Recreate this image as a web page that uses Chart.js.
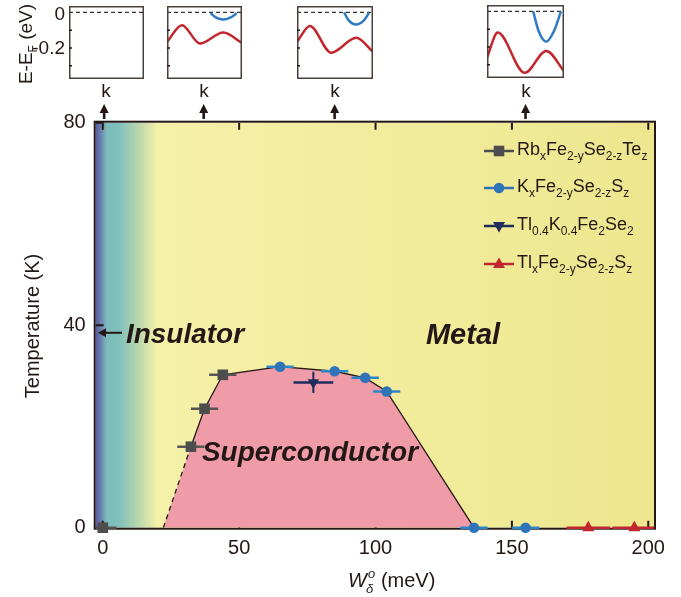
<!DOCTYPE html>
<html>
<head>
<meta charset="utf-8">
<script src="https://cdn.jsdelivr.net/npm/chart.js@4.4.1/dist/chart.umd.min.js"></script>
<style>
  body { margin: 0; background: #fff; width: 681px; height: 597px; overflow: hidden; position: relative;
         font-family: "Liberation Sans", Arial, sans-serif; color: #231815; }
  canvas { position: absolute; }
  .lab { position: absolute; font-size: 19px; line-height: 1; white-space: nowrap; }
  .lab sub { font-size: 12px; vertical-align: -5px; line-height: 0; }
</style>
</head>
<body>
<canvas id="main" width="681" height="597" style="left:0;top:0"></canvas>
<canvas id="b1" width="75" height="73" style="left:69px;top:6px"></canvas>
<canvas id="b2" width="75" height="73" style="left:167px;top:6px"></canvas>
<canvas id="b3" width="76" height="73" style="left:297px;top:6px"></canvas>
<canvas id="b4" width="77" height="73" style="left:487px;top:5px"></canvas>

<div class="lab" style="right:616px;top:4px">0</div>
<div class="lab" style="right:616px;top:38px">-0.2</div>
<div class="lab" style="left:25px;top:44px;transform:translate(-50%,-50%) rotate(-90deg)">E-E<sub>F</sub> (eV)</div>
<div class="lab" style="left:106px;top:81px;transform:translateX(-50%)">k</div>
<div class="lab" style="left:204px;top:81px;transform:translateX(-50%)">k</div>
<div class="lab" style="left:335px;top:81px;transform:translateX(-50%)">k</div>
<div class="lab" style="left:526px;top:81px;transform:translateX(-50%)">k</div>

<script>
// ---- main phase diagram data (W in meV, Tc in K) ----
const xTicks = [0, 50, 100, 150, 200];
const yTicks = [0, 40, 80];

const rbW = [0, 32.3, 37.3, 44];          // RbxFe2-ySe2-zTez
const rbTc = [0, 16, 23.5, 30.2];
const rbErr = [5, 5, 5, 5];

const kW = [65, 85, 96.2, 104.1, 136.1, 155];   // KxFe2-ySe2-zSz
const kTc = [31.8, 30.9, 29.6, 26.9, 0, 0];
const kErr = [5, 5, 5, 5, 5, 5];

const tlkW = [77.2];                       // Tl0.4K0.4Fe2Se2
const tlkTc = [28.7];
const tlkErr = [7.3];
const tlkTcErr = [2.1];

const tlW = [178, 194.9];                  // TlxFe2-ySe2-zSz
const tlTc = [0, 0];
const tlErr = [8, 8];

// superconducting dome boundary
const domeW = [22.2, 32.3, 37.3, 44, 65, 85, 96.2, 104.1, 136.1];
const domeTc = [0, 16, 23.5, 30.2, 31.8, 30.9, 29.6, 26.9, 0];

// W values where the band insets are taken
const kArrows = [0.5, 37, 85, 155];

// ---- band insets (k normalised 0..1, E in eV) ----
const red2K = [0, 0.2, 0.44, 0.75, 1];
const red2E = [-0.166, -0.072, -0.175, -0.113, -0.172];
const blue2K = [0.58, 0.65, 0.75, 0.85, 0.93];
const blue2E = [-0.004, -0.028, -0.04, -0.028, -0.004];

const red3K = [0, 0.17, 0.45, 0.78, 1];
const red3E = [-0.166, -0.076, -0.226, -0.143, -0.222];
const blue3K = [0.62, 0.68, 0.78, 0.88, 0.95];
const blue3E = [0, -0.045, -0.068, -0.045, 0];

const red4K = [0, 0.14, 0.49, 0.77, 1];
const red4E = [-0.26, -0.119, -0.345, -0.222, -0.335];
const blue4K = [0.6, 0.67, 0.77, 0.87, 0.96];
const blue4E = [0, -0.11, -0.17, -0.11, 0];

const legendNames = [
  'Rb_{x}Fe_{2-y}Se_{2-z}Te_{z}',
  'K_{x}Fe_{2-y}Se_{2-z}S_{z}',
  'Tl_{0.4}K_{0.4}Fe_{2}Se_{2}',
  'Tl_{x}Fe_{2-y}Se_{2-z}S_{z}'
];

const ink = '#231815';
const font = '"Liberation Sans", Arial, sans-serif';
const toXY = (xs, ys) => xs.map((v, i) => ({ x: v, y: ys[i] }));

// background: insulator -> metal colour wash
const bgStops = [-2.6, -1.2, 1.5, 6, 13, 20, 80, 202.1];
const bgColors = ['#56599c', '#6676ad', '#7cbcbb', '#80c0bb', '#b9d6ad', '#f5f1a8', '#f3eda0', '#eee68e'];

const backdrop = {
  id: 'backdrop',
  beforeDatasetsDraw(chart) {
    const { ctx, chartArea: a, scales: { x, y } } = chart;
    const g = ctx.createLinearGradient(a.left, 0, a.right, 0);
    bgStops.forEach((v, i) => {
      const t = (x.getPixelForValue(v) - a.left) / (a.right - a.left);
      g.addColorStop(Math.min(1, Math.max(0, t)), bgColors[i]);
    });
    ctx.save();
    ctx.fillStyle = g;
    ctx.fillRect(a.left, a.top, a.right - a.left, a.bottom - a.top);
    // frame, drawn just outside the area
    ctx.strokeStyle = ink;
    ctx.lineWidth = 2;
    ctx.strokeRect(a.left - 1, a.top - 1, a.right - a.left + 2, a.bottom - a.top + 2);
    // inward ticks
    ctx.lineWidth = 2;
    ctx.beginPath();
    xTicks.forEach(v => {
      const px = x.getPixelForValue(v);
      ctx.moveTo(px, a.bottom); ctx.lineTo(px, a.bottom - 7);
      ctx.moveTo(px, a.top); ctx.lineTo(px, a.top + 7);
    });
    yTicks.forEach(v => {
      const py = y.getPixelForValue(v);
      ctx.moveTo(a.left, py); ctx.lineTo(a.left + 8, py);
    });
    ctx.stroke();
    ctx.restore();
  }
};

const errorBars = {
  id: 'errorBars',
  afterDatasetDraw(chart, args) {
    if (args.index !== 4) return;   // right after the dome outline
    const { ctx, chartArea: a, scales: { x, y } } = chart;
    ctx.save();
    ctx.beginPath();
    ctx.rect(a.left, a.top - 20, a.right - a.left, a.bottom - a.top + 40);
    ctx.clip();
    const hbar = (ws, ts, errs, color) => {
      ctx.strokeStyle = color;
      ctx.lineWidth = 2.5;
      ws.forEach((w, i) => {
        const py = y.getPixelForValue(ts[i]);
        ctx.beginPath();
        ctx.moveTo(x.getPixelForValue(w - errs[i]), py);
        ctx.lineTo(x.getPixelForValue(w + errs[i]), py);
        ctx.stroke();
      });
    };
    hbar(rbW, rbTc, rbErr, '#555555');
    hbar(kW, kTc, kErr, '#2b86c9');
    hbar(tlW, tlTc, tlErr, '#c3272d');
    hbar(tlkW, tlkTc, tlkErr, '#1f2d5c');
    ctx.strokeStyle = '#1f2d5c';
    ctx.lineWidth = 2;
    tlkW.forEach((w, i) => {
      const px = x.getPixelForValue(w);
      ctx.beginPath();
      ctx.moveTo(px, y.getPixelForValue(tlkTc[i] - tlkTcErr[i]));
      ctx.lineTo(px, y.getPixelForValue(tlkTc[i] + tlkTcErr[i]));
      ctx.stroke();
    });
    ctx.restore();
  }
};

function drawMarker(ctx, kind, cx, cy, color) {
  ctx.fillStyle = color;
  ctx.beginPath();
  if (kind === 'rect') {
    ctx.rect(cx - 5.3, cy - 5.3, 10.6, 10.6);
  } else if (kind === 'circle') {
    ctx.arc(cx, cy, 5.3, 0, Math.PI * 2);
  } else if (kind === 'up') {
    ctx.moveTo(cx, cy - 6.5); ctx.lineTo(cx + 6, cy + 4); ctx.lineTo(cx - 6, cy + 4);
  } else {
    ctx.moveTo(cx, cy + 6.5); ctx.lineTo(cx + 6, cy - 4); ctx.lineTo(cx - 6, cy - 4);
  }
  ctx.closePath();
  ctx.fill();
}

function drawFormula(ctx, text, x0, base) {
  const parts = text.split(/(_\{[^}]*\})/).filter(s => s.length);
  let cx = x0;
  parts.forEach(p => {
    if (p.startsWith('_{')) {
      const s = p.slice(2, -1);
      ctx.font = `12px ${font}`;
      ctx.fillText(s, cx, base + 5);
      cx += ctx.measureText(s).width;
    } else {
      ctx.font = `18px ${font}`;
      ctx.fillText(p, cx, base);
      cx += ctx.measureText(p).width;
    }
  });
}

const annotations = {
  id: 'annotations',
  afterDatasetsDraw(chart) {
    const { ctx, scales: { x, y } } = chart;
    ctx.save();
    ctx.fillStyle = ink;
    ctx.textAlign = 'center';
    ctx.textBaseline = 'alphabetic';
    ctx.font = `italic bold 28px ${font}`;
    ctx.fillText('Insulator', 185, 343);
    ctx.fillText('Superconductor', 310, 461);
    ctx.font = `italic bold 29px ${font}`;
    ctx.fillText('Metal', 463, 344);
    // arrow to the insulating edge
    const ay = y.getPixelForValue(38.5);
    ctx.strokeStyle = ink;
    ctx.lineWidth = 2;
    ctx.beginPath();
    ctx.moveTo(122, ay); ctx.lineTo(104, ay);
    ctx.stroke();
    ctx.beginPath();
    ctx.moveTo(98, ay); ctx.lineTo(106, ay - 4.5); ctx.lineTo(106, ay + 4.5);
    ctx.closePath(); ctx.fill();
    ctx.restore();
  },
  afterDraw(chart) {
    const { ctx, chartArea: a, scales: { x } } = chart;
    ctx.save();
    ctx.fillStyle = ink;
    // arrows from the insets down to the W axis
    kArrows.forEach(k => {
      const px = x.getPixelForValue(k);
      ctx.fillRect(px - 1.3, 111, 2.6, 8);
      ctx.beginPath();
      ctx.moveTo(px, 104); ctx.lineTo(px + 4.5, 113); ctx.lineTo(px - 4.5, 113);
      ctx.closePath(); ctx.fill();
    });
    // axis titles
    ctx.textBaseline = 'alphabetic';
    ctx.save();
    ctx.translate(39, 326);
    ctx.rotate(-Math.PI / 2);
    ctx.textAlign = 'center';
    ctx.font = `20px ${font}`;
    ctx.fillText('Temperature (K)', 0, 0);
    ctx.restore();
    ctx.textAlign = 'left';
    let tx = 348;
    const tb = 587;
    ctx.font = `italic 20px ${font}`;
    ctx.fillText('W', tx, tb);
    tx += ctx.measureText('W').width;
    ctx.font = `italic 13px ${font}`;
    ctx.fillText('\u03B4', tx - 1, tb + 6);
    ctx.fillText('o', tx + 1, tb - 9);
    ctx.font = `20px ${font}`;
    ctx.fillText('(meV)', tx + 14, tb);
    // legend
    const colors = ['#4d4d4d', '#2f74b8', '#1f2d5c', '#c1272d'];
    const kinds = ['rect', 'circle', 'down', 'up'];
    const bases = [155, 192, 230, 268];
    legendNames.forEach((name, i) => {
      const ly = bases[i] - 4;
      ctx.strokeStyle = colors[i];
      ctx.lineWidth = 2.5;
      ctx.beginPath();
      ctx.moveTo(484, ly); ctx.lineTo(514, ly);
      ctx.stroke();
      drawMarker(ctx, kinds[i], 499, ly, colors[i]);
      ctx.fillStyle = ink;
      drawFormula(ctx, name, 517, bases[i]);
    });
    ctx.restore();
  }
};

new Chart(document.getElementById('main'), {
  type: 'line',
  data: {
    datasets: [
      { data: toXY(rbW, rbTc), showLine: false, pointStyle: 'rect', pointRadius: 7.5,
        backgroundColor: '#4d4d4d', borderWidth: 0, clip: false },
      { data: toXY(kW, kTc), showLine: false, pointStyle: 'circle', pointRadius: 5.3,
        backgroundColor: '#2f74b8', borderWidth: 0, clip: false },
      { data: toXY(tlkW, tlkTc), showLine: false, pointStyle: 'triangle', rotation: 180, pointRadius: 6.5,
        backgroundColor: '#1f2d5c', borderWidth: 0, clip: false },
      { data: toXY(tlW, tlTc), showLine: false, pointStyle: 'triangle', pointRadius: 7,
        backgroundColor: '#c1272d', borderWidth: 0, clip: false },
      // dome outline (dashed where extrapolated)
      { data: toXY(domeW, domeTc), pointRadius: 0, borderColor: ink, borderWidth: 1.3,
        fill: false, tension: 0,
        segment: { borderDash: c => c.p0DataIndex === 0 ? [5, 4] : undefined } },
      // dome fill
      { data: toXY(domeW, domeTc), pointRadius: 0, borderWidth: 0, borderColor: 'rgba(0,0,0,0)',
        fill: 'origin', backgroundColor: '#f09ba8', tension: 0 }
    ]
  },
  options: {
    responsive: false,
    animation: false,
    devicePixelRatio: 1,
    layout: { padding: { top: 122.7, right: 27, left: 0, bottom: 0 } },
    scales: {
      x: {
        type: 'linear', min: -2.6, max: 202.1,
        afterFit: s => { s.height = 69.3; },
        afterBuildTicks: s => { s.ticks = xTicks.map(v => ({ value: v })); },
        grid: { display: false, drawTicks: false },
        border: { display: false },
        ticks: { color: ink, font: { size: 20, family: font }, padding: 9, maxRotation: 0, autoSkip: false }
      },
      y: {
        min: 0, max: 80,
        afterFit: s => { s.width = 95.7; },
        afterBuildTicks: s => { s.ticks = yTicks.map(v => ({ value: v })); },
        grid: { display: false, drawTicks: false },
        border: { display: false },
        ticks: { color: ink, font: { size: 20, family: font }, padding: 10 }
      }
    },
    plugins: { legend: { display: false }, tooltip: { enabled: false } }
  },
  plugins: [backdrop, errorBars, annotations]
});

// ---- insets ----
const insetFrame = {
  id: 'insetFrame',
  beforeDatasetsDraw(chart) {
    const { ctx, chartArea: a, scales: { y } } = chart;
    ctx.save();
    ctx.strokeStyle = '#333';
    ctx.lineWidth = 1.2;
    ctx.setLineDash([4, 3]);
    const p0 = y.getPixelForValue(0);
    ctx.beginPath(); ctx.moveTo(a.left, p0); ctx.lineTo(a.right, p0); ctx.stroke();
    ctx.restore();
  },
  afterDraw(chart) {
    const { ctx, chartArea: a, scales: { y } } = chart;
    ctx.save();
    ctx.strokeStyle = '#4a403a';
    ctx.lineWidth = 1.5;
    ctx.strokeRect(a.left + 0.75, a.top + 0.75, a.right - a.left - 1.5, a.bottom - a.top - 1.5);
    ctx.strokeStyle = ink;
    ctx.lineWidth = 1.5;
    ctx.beginPath();
    [-0.1, -0.2, -0.3].forEach(v => {
      const py = y.getPixelForValue(v);
      ctx.moveTo(a.left, py); ctx.lineTo(a.left + 3, py);
    });
    ctx.stroke();
    ctx.restore();
  }
};

function makeInset(id, curves) {
  return new Chart(document.getElementById(id), {
    type: 'line',
    data: {
      datasets: curves.map(c => ({
        data: toXY(c.k, c.e), borderColor: c.color, borderWidth: 2.5, pointRadius: 0,
        cubicInterpolationMode: 'monotone', fill: false
      }))
    },
    options: {
      responsive: false,
      animation: false,
      devicePixelRatio: 1,
      layout: { padding: 0 },
      scales: {
        x: { type: 'linear', min: 0, max: 1, display: false },
        y: { min: -0.374, max: 0.036, display: false }
      },
      plugins: { legend: { display: false }, tooltip: { enabled: false } }
    },
    plugins: [insetFrame]
  });
}

const redBand = '#c1272d';
const blueBand = '#2e7bc4';
makeInset('b1', []);
makeInset('b2', [{ k: red2K, e: red2E, color: redBand }, { k: blue2K, e: blue2E, color: blueBand }]);
makeInset('b3', [{ k: red3K, e: red3E, color: redBand }, { k: blue3K, e: blue3E, color: blueBand }]);
makeInset('b4', [{ k: red4K, e: red4E, color: redBand }, { k: blue4K, e: blue4E, color: blueBand }]);
</script>
</body>
</html>
